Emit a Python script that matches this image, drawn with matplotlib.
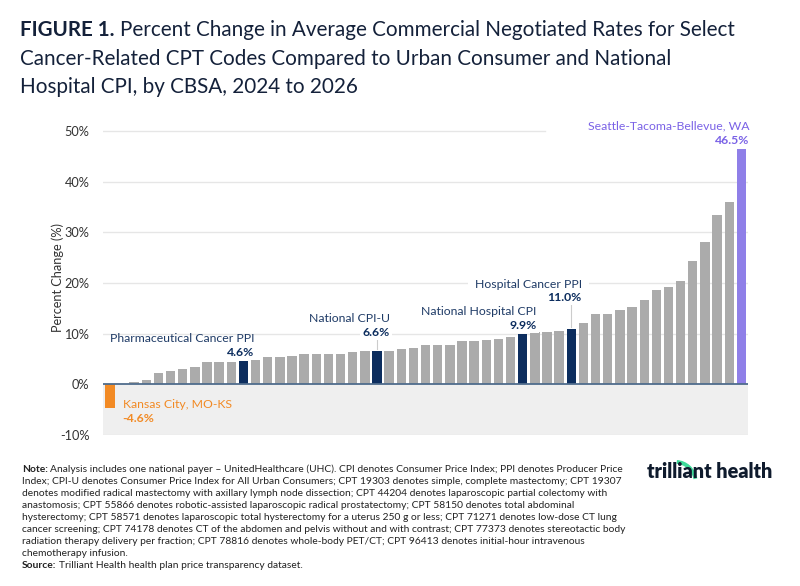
import matplotlib
matplotlib.use("Agg")
import matplotlib.pyplot as plt
import numpy as np
from matplotlib.patches import Arc

# ---------------- data ----------------
values = [-4.6, 0.1, 0.4, 0.8, 2.2, 2.6, 3.0, 3.5, 4.4, 4.4,
          4.4, 4.6, 4.9, 5.3, 5.3, 5.6, 5.9, 5.9, 5.9, 6.0,
          6.3, 6.5, 6.6, 6.6, 6.9, 7.1, 7.7, 7.7, 7.7, 8.5,
          8.5, 8.7, 9.0, 9.3, 9.9, 10.3, 10.3, 10.6, 11.0, 12.2,
          13.9, 13.9, 14.6, 15.3, 16.7, 18.7, 19.2, 20.4, 24.4, 28.0,
          33.5, 36.0, 46.5]
benchmark_idx = [11, 22, 34, 38]
benchmark_names = ["Pharmaceutical Cancer PPI", "National CPI-U",
                   "National Hospital CPI", "Hospital Cancer PPI"]
benchmark_labels = ["4.6%", "6.6%", "9.9%", "11.0%"]
min_idx, min_name, min_label = 0, "Kansas City, MO-KS", "-4.6%"
max_idx, max_name, max_label = 52, "Seattle-Tacoma-Bellevue, WA", "46.5%"
yticks = [-10, 0, 10, 20, 30, 40, 50]
ytick_labels = ["-10%", "0%", "10%", "20%", "30%", "40%", "50%"]

GREY = "#ababab"
NAVY = "#0c2d5e"
ORANGE = "#f28a24"
PURPLE = "#8f7fe8"
TXT = "#1f3b66"
TITLE = "#14213a"
FAM = "Lato"

fig = plt.figure(figsize=(8.0, 5.86), dpi=100)
fig.patch.set_facecolor("white")

ax = fig.add_axes([0.129, 0.2577, 0.806, 0.536])
n = len(values)
x = np.arange(n)
colors = [GREY] * n
for i in benchmark_idx:
    colors[i] = NAVY
colors[min_idx] = ORANGE
colors[max_idx] = PURPLE

ax.axhspan(-10, 0, color="#efefef", zorder=0, lw=0)
ax.bar(x, values, width=0.77, color=colors, zorder=2)
ax.set_xlim(-0.55, n - 0.45)
ax.set_ylim(-10, 52)
ax.set_yticks(yticks)
ax.set_yticklabels(ytick_labels)
for y in yticks:
    if y == 50:
        ax.axhline(y, xmax=0.685, color="#e6e6e6", lw=1.0, zorder=1)
    elif y != 0:
        ax.axhline(y, color="#e6e6e6", lw=1.0, zorder=1)
ax.axhline(0, color="#4f6c8c", lw=1.3, zorder=3)
for s in ax.spines.values():
    s.set_visible(False)
ax.set_xticks([])
ax.tick_params(axis="y", length=0, pad=10, labelsize=9.2, labelcolor="#333333")
for lab in ax.get_yticklabels():
    lab.set_fontfamily(FAM)
ax.set_ylabel("Percent Change (%)", fontsize=9.2, color="#333333", labelpad=-3,
              fontfamily=FAM)

AFS = 8.8
name_off = [4.5, 6.4, 4.5, 8.8]
val_off = [1.7, 3.7, 1.8, 6.2]
right_shift = [0.9, 1.05, 1.15, 0.85]
name_pad = [0.0, 5.0, 5.0, 5.0]
for k, i in enumerate(benchmark_idx):
    v = values[i]
    xr = i + right_shift[k]
    bbox = None
    if name_pad[k] > 0:
        bbox = dict(facecolor="white", edgecolor="none", pad=name_pad[k])
    ax.text(xr, v + name_off[k], benchmark_names[k], ha="right", va="center",
            fontsize=AFS, color=TXT, fontfamily=FAM, zorder=5, bbox=bbox)
    ax.text(xr, v + val_off[k], benchmark_labels[k], ha="right", va="center",
            fontsize=AFS, color=NAVY, fontweight="bold", fontfamily=FAM,
            zorder=5, bbox=dict(facecolor="white", edgecolor="none", pad=1.5))
    if val_off[k] > 2.5:
        ax.plot([i, i], [v + 0.3, v + val_off[k] - 1.3], color="#cccccc",
                lw=0.8, zorder=4)

vmax = values[max_idx]
ax.text(max_idx + 0.65, vmax + 4.5, max_name, ha="right", va="center",
        fontsize=AFS, color="#7a62e6", fontfamily=FAM, zorder=5, clip_on=False)
ax.text(max_idx + 0.65, vmax + 1.7, max_label, ha="right", va="center",
        fontsize=AFS, color="#7a62e6", fontweight="bold", fontfamily=FAM,
        zorder=5, clip_on=False)

vmin = values[min_idx]
ax.text(min_idx + 1.05, vmin + 0.6, min_name, ha="left", va="center",
        fontsize=AFS, color=ORANGE, fontfamily=FAM, zorder=5)
ax.text(min_idx + 1.05, vmin - 2.1, min_label, ha="left", va="center",
        fontsize=AFS, color=ORANGE, fontweight="bold", fontfamily=FAM, zorder=5)

# title
TFS = 14.9
t1 = fig.text(0.025, 0.948, "FIGURE 1.", fontsize=TFS, fontweight="bold",
              color=TITLE, fontfamily=FAM, va="center")
fig.canvas.draw()
bb = t1.get_window_extent()
fig.text((bb.x1 + 5) / 800, 0.948,
         "Percent Change in Average Commercial Negotiated Rates for Select",
         fontsize=TFS, color=TITLE, fontfamily=FAM, va="center")
fig.text(0.025, 0.900, "Cancer-Related CPT Codes Compared to Urban Consumer and National",
         fontsize=TFS, color=TITLE, fontfamily=FAM, va="center")
fig.text(0.025, 0.852, "Hospital CPI, by CBSA, 2024 to 2026",
         fontsize=TFS, color=TITLE, fontfamily=FAM, va="center")

# notes
note_lines = [
    "Analysis includes one national payer \u2013 UnitedHealthcare (UHC). CPI denotes Consumer Price Index; PPI denotes Producer Price",
    "Index; CPI-U denotes Consumer Price Index for All Urban Consumers; CPT 19303 denotes simple, complete mastectomy; CPT 19307",
    "denotes modified radical mastectomy with axillary lymph node dissection; CPT 44204 denotes laparoscopic partial colectomy with",
    "anastomosis; CPT 55866 denotes robotic-assisted laparoscopic radical prostatectomy; CPT 58150 denotes total abdominal",
    "hysterectomy; CPT 58571 denotes laparoscopic total hysterectomy for a uterus 250 g or less; CPT 71271 denotes low-dose CT lung",
    "cancer screening; CPT 74178 denotes CT of the abdomen and pelvis without and with contrast; CPT 77373 denotes stereotactic body",
    "radiation therapy delivery per fraction; CPT 78816 denotes whole-body PET/CT; CPT 96413 denotes initial-hour intravenous",
    "chemotherapy infusion.",
]
NFS = 7.4
y0 = 586 - 469
step = 12.0
tn = fig.text(22 / 800, y0 / 586, "Note:", fontsize=NFS, fontweight="bold",
              color="#222222", fontfamily=FAM, va="center")
fig.canvas.draw()
bbn = tn.get_window_extent()
fig.text((bbn.x1 + 2.5) / 800, y0 / 586, note_lines[0], fontsize=NFS,
         color="#222222", fontfamily=FAM, va="center")
for j, line in enumerate(note_lines[1:], start=1):
    fig.text(22 / 800, (y0 - j * step) / 586, line, fontsize=NFS,
             color="#222222", fontfamily=FAM, va="center")
ys = (y0 - 8 * step) / 586
ts = fig.text(22 / 800, ys, "Source:", fontsize=NFS, fontweight="bold",
              color="#222222", fontfamily=FAM, va="center")
fig.canvas.draw()
bbs = ts.get_window_extent()
fig.text((bbs.x1 + 2.5) / 800, ys, "Trilliant Health health plan price transparency dataset.",
         fontsize=NFS, color="#222222", fontfamily=FAM, va="center")

# logo
fig.text(647 / 800, (586 - 471) / 586, "trilliant health", fontsize=14.2,
         fontweight="heavy", color="#0f1b2d", fontfamily=FAM, va="center")
arc = Arc((676, 586 - 484), 40, 44, theta1=15, theta2=88, color="#3fdc9a",
          lw=2.8, transform=None)
fig.add_artist(arc)

fig.savefig("out.png", dpi=100, facecolor="white")
